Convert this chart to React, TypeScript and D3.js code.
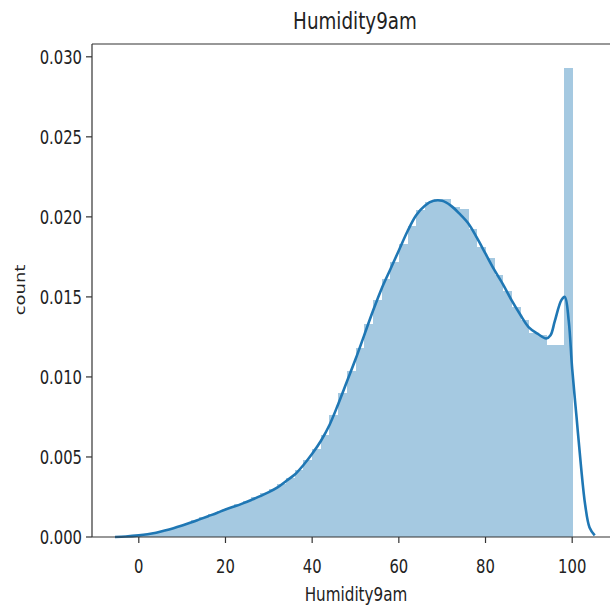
import React from "react";
import * as d3 from "d3";

// histogram: 50 bins of width 2 over [0, 100], density values
const binEdges = d3.range(0, 101, 2);
const binDensity = [
  0.0001, 0.0002, 0.00032, 0.00047, 0.00063, 0.00083, 0.00104, 0.00125, 0.00145, 0.00163,
  0.00183, 0.00204, 0.00225, 0.0025, 0.00275, 0.003, 0.0033, 0.0037, 0.0042, 0.0048,
  0.0055, 0.0064, 0.0076, 0.009, 0.0104, 0.0118, 0.0133, 0.0148, 0.0161, 0.0172,
  0.0183, 0.0194, 0.0204, 0.0209, 0.0211, 0.0211, 0.0206, 0.0205, 0.01925, 0.0181,
  0.01744, 0.01637, 0.0154, 0.0144, 0.01356, 0.01275, 0.0126, 0.012, 0.012, 0.0293,
];

// kde curve samples
const kdeX = [
  -5.5, -3, 0, 2, 4, 6, 8, 10, 12, 14, 16, 18, 20, 22, 24, 26, 28, 30, 32, 34, 36, 38,
  40, 42, 44, 46, 48, 50, 52, 54, 56, 58, 60, 62, 64, 66, 68, 70, 72, 74, 76, 78, 80,
  82, 84, 86, 88, 90, 92, 94, 95, 96, 97.5, 98.3, 99.2, 100, 101, 102, 103, 104, 105.2,
];
const kdeY = [
  0, 0.00003, 0.0001, 0.00017, 0.00027, 0.0004, 0.00055, 0.00072, 0.0009, 0.0011,
  0.0013, 0.0015, 0.00172, 0.0019, 0.0021, 0.00232, 0.00255, 0.0028, 0.0031, 0.0035,
  0.0039, 0.0045, 0.0052, 0.006, 0.007, 0.0083, 0.0097, 0.0111, 0.0126, 0.0141,
  0.0155, 0.0167, 0.0179, 0.0191, 0.0201, 0.0207, 0.021, 0.021, 0.0207, 0.0202, 0.0196,
  0.0187, 0.0177, 0.0167, 0.0158, 0.0148, 0.0139, 0.0131, 0.0127, 0.0124, 0.0126,
  0.0135, 0.0148, 0.015, 0.0135, 0.0105, 0.0075, 0.0045, 0.002, 0.0006, 0.0001,
];

const xTicks = [0, 20, 40, 60, 80, 100];
const yTicks = [0, 0.005, 0.01, 0.015, 0.02, 0.025, 0.03];

const W = 610;
const H = 607;
const left = 92;
const right = 619;
const top = 44;
const bottom = 537;
const squeeze = 0.78;
const font = "DejaVu Sans, sans-serif";

export default function App() {
  const x = d3.scaleLinear().domain([-10.8, 110.8]).range([left, right]);
  const y = d3.scaleLinear().domain([0, 0.0308]).range([bottom, top]);

  const line = d3
    .line<number>()
    .x((d, i) => x(kdeX[i]))
    .y((d) => Math.min(y(0), y(d)))
    .curve(d3.curveCatmullRom.alpha(0.5));

  const fmt = d3.format(".3f");

  return (
    <svg
      width={W}
      height={H}
      style={{ position: "absolute", left: 0, top: 0, background: "#fff" }}
    >
      <g shapeRendering="crispEdges">
        {binDensity.map((v, i) => (
          <rect
            key={i}
            x={x(binEdges[i])}
            y={y(v)}
            width={x(binEdges[i + 1]) - x(binEdges[i]) + 0.6}
            height={y(0) - y(v)}
            fill="#a5c9e1"
          />
        ))}
      </g>
      <path d={line(kdeY) || ""} fill="none" stroke="#1f77b4" strokeWidth={2.6} />

      {/* spines */}
      <g stroke="#333" strokeWidth={1.2} fill="none">
        <line x1={left} x2={left} y1={top} y2={bottom} />
        <line x1={left} x2={right} y1={bottom} y2={bottom} />
        <line x1={left} x2={right} y1={top} y2={top} />
        <line x1={right} x2={right} y1={top} y2={bottom} />
      </g>

      {/* y axis */}
      {yTicks.map((t) => (
        <g key={t}>
          <line x1={left - 6} x2={left} y1={y(t)} y2={y(t)} stroke="#333" strokeWidth={1.2} />
          <text
            transform={`translate(${left - 10},${y(t) + 7}) scale(${squeeze},1)`}
            textAnchor="end"
            fontFamily={font}
            fontSize={19}
            fill="#222"
          >
            {fmt(t)}
          </text>
        </g>
      ))}

      {/* x axis */}
      {xTicks.map((t) => (
        <g key={t}>
          <line x1={x(t)} x2={x(t)} y1={bottom} y2={bottom + 6} stroke="#333" strokeWidth={1.2} />
          <text
            transform={`translate(${x(t)},${573}) scale(${squeeze},1)`}
            textAnchor="middle"
            fontFamily={font}
            fontSize={19}
            fill="#222"
          >
            {t}
          </text>
        </g>
      ))}

      <text
        transform={`translate(355,29) scale(${squeeze},1)`}
        textAnchor="middle"
        fontFamily={font}
        fontSize={23.5}
        fill="#222"
      >
        Humidity9am
      </text>
      <text
        transform={`translate(356,601) scale(${squeeze},1)`}
        textAnchor="middle"
        fontFamily={font}
        fontSize={19.5}
        fill="#222"
      >
        Humidity9am
      </text>
      <text
        transform={`translate(25,290) rotate(-90) scale(1,${squeeze})`}
        textAnchor="middle"
        fontFamily={font}
        fontSize={18}
        fill="#222"
      >
        count
      </text>
    </svg>
  );
}
